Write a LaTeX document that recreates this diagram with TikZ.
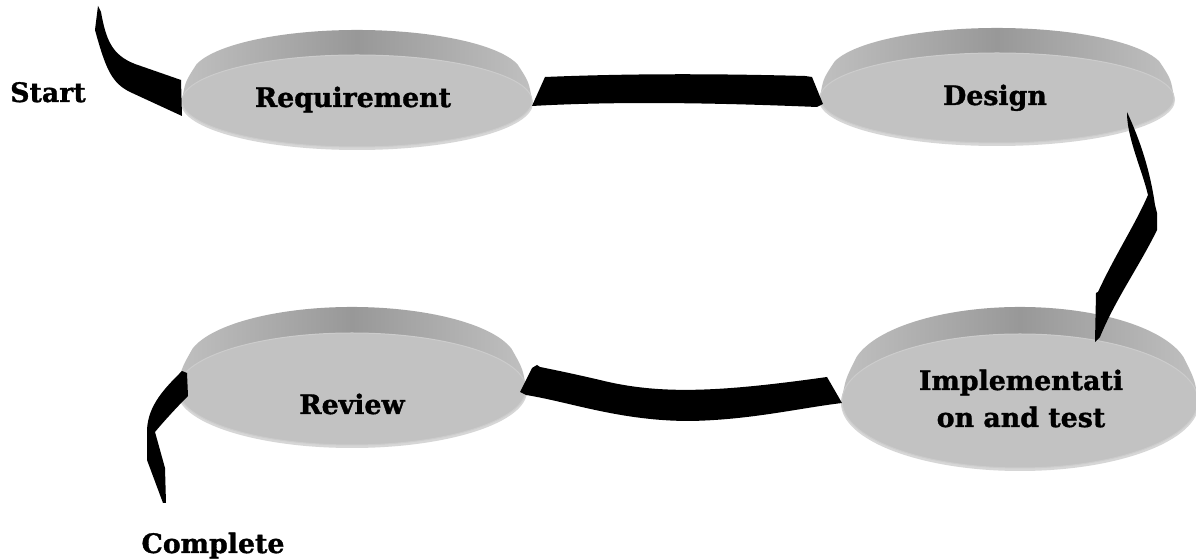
\documentclass[tikz,border=0pt]{standalone}
\usepackage{fontspec}
\setmainfont{DejaVu Serif}[BoldFeatures={FakeBold=1.2}]
\definecolor{facecol}{RGB}{194,194,194}
\definecolor{rimmid}{RGB}{152,152,152}
\definecolor{rimside}{RGB}{192,192,192}
\definecolor{facerim}{RGB}{214,214,214}
\definecolor{faceline}{RGB}{204,204,204}
\newcommand\puckdisk[5]{%
  \fill[facerim] (#1,#2+2) ellipse[x radius=#3+1, y radius=#4+1];
  \shade[left color=rimside, right color=rimside, middle color=rimmid]
    (#1-#3,#2) .. controls (#1-#3+3,#2-#5+6) .. ({#1-0.966*(#3-9)},{#2-#5-0.259*#4})
    arc[start angle=195, end angle=345, x radius=#3-9, y radius=#4]
    .. controls (#1+#3-3,#2-#5+6) .. (#1+#3,#2) -- cycle;
  \fill[facecol, draw=faceline, line width=0.5pt] (#1,#2) ellipse[x radius=#3, y radius=#4];
}
\tikzset{
  lbl/.style={font=\bfseries\fontsize{13.4}{16}\selectfont, inner sep=0pt, anchor=base},
  ribbon/.style={fill=black}
}
\begin{document}
\begin{tikzpicture}[x=0.5pt, y=-0.5pt]
\useasboundingbox (0,0) rectangle (1196,560);
\fill[white] (0,0) rectangle (1196,560);
% disks
\puckdisk{357}{101}{175}{46}{25}
\puckdisk{997}{98}{177}{45}{25}
\puckdisk{1020}{401}{178}{67}{27}
\puckdisk{352}{389}{174}{56}{26}
% labels
\node[lbl] (start) at (48,102) {Start};
\node[lbl] (req) at (353,107) {Requirement};
\node[lbl] (des) at (995,105) {Design};
\node[lbl] (imp) at (1021,390) {Implementati};
\node[lbl] (imp2) at (1021,427) {on and test};
\node[lbl] (rev) at (352,414) {Review};
\node[lbl] (comp) at (213,553) {Complete};
% ribbons
\fill[ribbon] (98,6) -- (101,12) .. controls (106,40) and (112,55) .. (135,64)
  -- (181,80) -- (182,116) -- (130,92) .. controls (112,83) and (106,70) .. (95,30) -- cycle;
\fill[ribbon] (532,106) -- (545,77) .. controls (640,73) and (730,74) .. (805,76)
  -- (812,77) -- (823,104) -- (817,107) .. controls (720,103) and (620,101) .. (532,106) -- cycle;
\fill[ribbon] (1127,112) .. controls (1140,140) and (1150,170) .. (1155,205) -- (1157,213)
  -- (1157,230) .. controls (1140,265) and (1115,300) .. (1100,337) -- (1095,342)
  -- (1096,293) -- (1098,292) .. controls (1115,255) and (1135,225) .. (1148,195)
  .. controls (1142,170) and (1128,140) .. (1127,115) -- cycle;
\fill[ribbon] (842,403) -- (827,377) .. controls (720,392) and (660,395) .. (600,380)
  .. controls (570,373) and (550,369) .. (540,367) -- (537,365) -- (532,368) -- (520,392)
  -- (526,395) .. controls (570,402) and (620,421) .. (690,421)
  .. controls (750,420) and (800,408) .. (842,403) -- cycle;
\fill[ribbon] (182,371) -- (187,373) -- (188,396) .. controls (178,406) and (165,420) .. (155,432)
  -- (165,468) -- (166,503) -- (163,503) -- (147,460) -- (147,430)
  .. controls (148,405) and (165,388) .. (182,371) -- cycle;
\end{tikzpicture}
\end{document}
